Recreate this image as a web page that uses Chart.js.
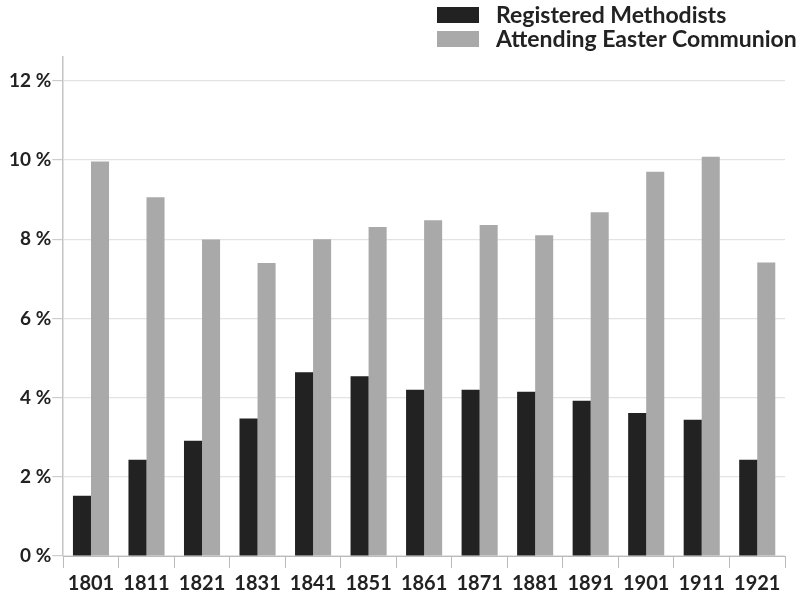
<!DOCTYPE html>
<html>
<head>
<meta charset="utf-8">
<script src="https://cdn.jsdelivr.net/npm/chart.js@4/dist/chart.umd.min.js"></script>
<style>
  html, body { margin: 0; padding: 0; background: #ffffff; }
  #wrap { width: 807px; height: 595px; }
</style>
</head>
<body>
<div id="wrap"><canvas id="c" width="807" height="595"></canvas></div>
<script>
const categories = ['1801','1811','1821','1831','1841','1851','1861','1871','1881','1891','1901','1911','1921'];
const registeredMethodists = [1.52, 2.43, 2.91, 3.47, 4.64, 4.54, 4.2, 4.2, 4.15, 3.92, 3.61, 3.44, 2.43];
const attendingEasterCommunion = [9.96, 9.06, 7.99, 7.4, 8.0, 8.31, 8.48, 8.36, 8.1, 8.68, 9.7, 10.08, 7.41];
const seriesLabels = ['Registered Methodists', 'Attending Easter Communion'];
const yTickValues = [0, 2, 4, 6, 8, 10, 12];

const FONT = 'Lato, "Noto Sans", sans-serif';

const legendPlugin = {
  id: 'stackedLegend',
  afterDraw(chart) {
    const ctx = chart.ctx;
    ctx.save();
    ctx.font = 'bold 23px ' + FONT;
    ctx.textBaseline = 'middle';
    ctx.textAlign = 'left';
    chart.data.datasets.forEach((ds, i) => {
      const x = 437, y = 7 + i * 24;
      ctx.fillStyle = ds.backgroundColor;
      ctx.fillRect(x, y, 42, 16);
      ctx.fillStyle = '#222222';
      ctx.fillText(ds.label, 496, y + 9);
    });
    ctx.restore();
  }
};

new Chart(document.getElementById('c'), {
  type: 'bar',
  data: {
    labels: categories,
    datasets: [
      { label: seriesLabels[0], data: registeredMethodists, backgroundColor: '#222222', borderWidth: 0 },
      { label: seriesLabels[1], data: attendingEasterCommunion, backgroundColor: '#a9a9a9', borderWidth: 0 }
    ]
  },
  options: {
    responsive: false,
    animation: false,
    layout: { padding: { top: 57, right: 22, left: 8, bottom: -5 } },
    plugins: { legend: { display: false }, tooltip: { enabled: false } },
    datasets: { bar: { categoryPercentage: 0.65, barPercentage: 1.0 } },
    scales: {
      x: {
        offset: true,
        grid: { offset: true, drawOnChartArea: false, drawTicks: true, tickLength: 12, color: '#bbbbbb', lineWidth: 1 },
        border: { color: '#bbbbbb', width: 1 },
        ticks: { color: '#222222', font: { family: FONT, size: 20, weight: 'bold' }, padding: 4, maxRotation: 0, autoSkip: false }
      },
      y: {
        min: 0,
        max: 12.6,
        afterBuildTicks(scale) { scale.ticks = yTickValues.map(v => ({ value: v })); },
        grid: { color: '#e3e3e3', lineWidth: 1.2, tickLength: 11, tickColor: '#cccccc' },
        border: { color: '#c4c4c4', width: 1.5 },
        ticks: { color: '#222222', font: { family: FONT, size: 19, weight: 'bold' }, padding: 1, callback: (v) => v + ' %' }
      }
    }
  },
  plugins: [legendPlugin]
});
</script>
</body>
</html>
